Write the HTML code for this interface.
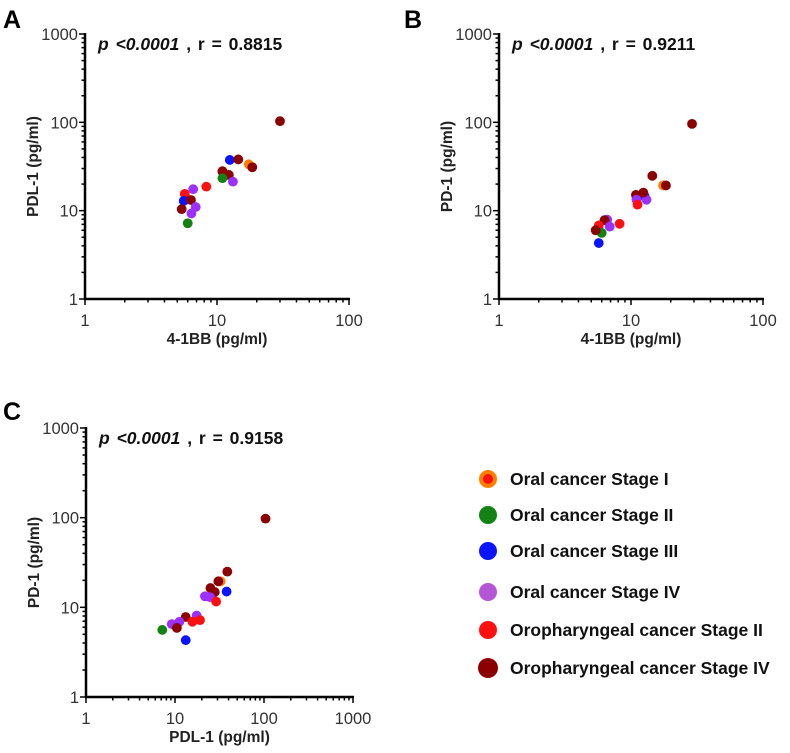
<!DOCTYPE html>
<html><head><meta charset="utf-8">
<style>
body{margin:0;background:#fff;}
svg text{font-family:"Liberation Sans",Arial,sans-serif;}
</style></head>
<body>
<svg id="fig" width="790" height="748" viewBox="0 0 790 748" xmlns="http://www.w3.org/2000/svg">
<text x="3" y="28" font-size="25" font-weight="bold">A</text>
<text x="404" y="28" font-size="25" font-weight="bold">B</text>
<text x="3" y="420" font-size="25" font-weight="bold">C</text>
<g id="legend"></g>
</svg>
<script>
const colors = {s1:"#ff7f00", s2:"#128212", s3:"#0a14ff", s4:"#9b30ff", o2:"#ff1010", o4:"#8b0000"};
const legendLabels = ["Oral cancer Stage I","Oral cancer Stage II","Oral cancer Stage III","Oral cancer Stage IV","Oropharyngeal cancer Stage II","Oropharyngeal cancer Stage IV"];
const legendKeys = ["s1","s2","s3","s4","o2","o4"];

// Panel A: 4-1BB vs PDL-1
const aGroup = ["o4","s3","o4","s1","o4","o2","o4","o4","s2","s4","o2","s4","o2","s3","o4","s4","o4","s4","s2"];
const aX = [30,12.5,14.5,17.4,18.5,11,11,12.3,11,13.2,8.3,6.6,5.7,5.6,6.35,6.9,5.4,6.4,6.0];
const aY = [103,37.5,38,33.5,31,27.6,28,25.4,23.3,21.3,18.7,17.5,15.5,12.9,13.2,11,10.4,9.3,7.2];
// Panel B: 4-1BB vs PD-1
const bGroup = ["o4","o4","s1","o4","s3","o4","s4","s4","o2","o2","s4","o4","s4","o2","s2","o4","s3","o4"];
const bX = [29,14.5,17.5,18.4,12.7,10.9,11,13.1,11.2,8.2,6.6,6.3,6.9,5.7,6.0,5.4,5.7,12.4];
const bY = [96,24.8,19.3,19.3,14.5,15.1,13.3,13.3,11.7,7.1,7.9,7.8,6.6,6.8,5.6,6.0,4.3,16];
// Panel C: PDL-1 vs PD-1
const cGroup = ["o4","o4","s1","o4","s3","o4","o4","s4","s4","o2","o4","s4","o2","o2","s4","s4","o4","s2","s3"];
const cX = [104,38.7,32.6,30.7,38,25,28,21.7,24.7,29,13.2,17.5,19.1,15.7,9.2,11.2,10.5,7.2,13.2];
const cY = [97.5,25,19.5,19.5,15,16.4,14.8,13.3,13,11.6,7.8,8.1,7.2,6.9,6.5,6.9,5.9,5.6,4.3];
const xTicksAB = [1,10,100];
const xTicksC = [1,10,100,1000];
const yTicks = [1,10,100,1000];

const NS="http://www.w3.org/2000/svg";
const svg=document.getElementById('fig');
function mk(tag,attrs,parent){const e=document.createElementNS(NS,tag);for(const k in attrs)e.setAttribute(k,attrs[k]);(parent||svg).appendChild(e);return e;}

function panel(id,p){
  const g=mk('g',{});
  
  
  const xmin=Math.log10(p.xTicks[0]), xmax=Math.log10(p.xTicks[p.xTicks.length-1]);
  const sx=v=>p.x0+(Math.log10(v)-xmin)/(xmax-xmin)*(p.x1-p.x0);
  const sy=v=>p.y1-(Math.log10(v)-0)/3*(p.y1-p.y0);
  const ya=mk('line',{x1:p.x0,y1:p.y0-1,x2:p.x0,y2:p.y1+1,stroke:'#000','stroke-width':2.5},g);
  
  
  const xa=mk('line',{x1:p.x0-1,y1:p.y1,x2:p.x1+1,y2:p.y1,stroke:'#000','stroke-width':2.5},g);
  
  
  for(let d=0;d<3;d++){for(let m=1;m<=9;m++){const v=m*Math.pow(10,d);const y=sy(v);mk('line',{x1:p.x0,y1:y,x2:p.x0-(m==1?6:3.5),y2:y,stroke:'#000','stroke-width':1.5},g);}}
  mk('line',{x1:p.x0,y1:sy(1000),x2:p.x0-6,y2:sy(1000),stroke:'#000','stroke-width':1.5},g);
  yTicks.forEach(v=>{const t=mk('text',{x:p.x0-7,y:sy(v)+6,'font-size':16.5,'text-anchor':'end',fill:'#333'},g);t.textContent=v;
    
    });
  const nd=p.xTicks.length-1;
  for(let d=0;d<nd;d++){for(let m=1;m<=9;m++){const v=m*Math.pow(10,d);const x=sx(v);mk('line',{x1:x,y1:p.y1,x2:x,y2:p.y1+(m==1?6:3.5),stroke:'#000','stroke-width':1.5},g);}}
  mk('line',{x1:p.x1,y1:p.y1,x2:p.x1,y2:p.y1+6,stroke:'#000','stroke-width':1.5},g);
  p.xTicks.forEach(v=>{const t=mk('text',{x:sx(v),y:p.y1+27,'font-size':16.5,'text-anchor':'middle',fill:'#333'},g);t.textContent=v;
    
    });
  const xt=mk('text',{x:(p.x0+p.x1)/2,y:p.y1+45,'font-size':15.5,'font-weight':'bold','text-anchor':'middle',fill:'#222'},g);xt.textContent=p.xTitle;
  
  
  const cy=(p.y0+p.y1)/2;
  const yt=mk('text',{x:p.x0-47,y:cy,'font-size':15.5,'font-weight':'bold','text-anchor':'middle',fill:'#222',transform:`rotate(-90 ${p.x0-47} ${cy})`},g);yt.textContent=p.yTitle;
  
  
  const an=mk('text',{x:p.x0+13,y:p.y0+16,'font-size':17.5,'font-weight':'bold',fill:'#111','word-spacing':'2'},g);
  an.innerHTML='<tspan font-style="italic">p</tspan>  <tspan font-style="italic">&lt;0.0001</tspan> , r =  '+p.r;
  
  
  p.X.forEach((xv,i)=>{
    const k=p.G[i];
    const c=mk('circle',{cx:sx(xv),cy:sy(p.Y[i]),r:4.9,fill:colors[k]},g);
    
    
  });
}
panel('a',{x0:85,x1:349,y0:34,y1:299,xTicks:xTicksAB,X:aX,Y:aY,G:aGroup,xTitle:'4-1BB (pg/ml)',yTitle:'PDL-1 (pg/ml)',r:'0.8815'});
panel('b',{x0:499,x1:763,y0:34,y1:299,xTicks:xTicksAB,X:bX,Y:bY,G:bGroup,xTitle:'4-1BB (pg/ml)',yTitle:'PD-1 (pg/ml)',r:'0.9211'});
panel('c',{x0:86,x1:353,y0:428,y1:697,xTicks:xTicksC,X:cX,Y:cY,G:cGroup,xTitle:'PDL-1 (pg/ml)',yTitle:'PD-1 (pg/ml)',r:'0.9158'});

const lg=document.getElementById('legend');
const ly=[479,515,551,592,630,668];
const lcol={s1:"#ff7f00",s2:"#128212",s3:"#0a14ff",s4:"#b455d8",o2:"#ff1010",o4:"#8b0000"};
legendKeys.forEach((k,i)=>{
  const e=mk('g',{},lg);
  
  
  if(k==='s1'){mk('circle',{cx:488,cy:ly[i],r:9,fill:'#ff7f00'},e);mk('circle',{cx:488,cy:ly[i],r:5,fill:'#ff1010'},e);}
  else mk('circle',{cx:488,cy:ly[i],r:k==='o4'?10:9,fill:lcol[k]},e);
  const t=mk('text',{x:510,y:ly[i]+6,'font-size':17.5,'font-weight':'bold',fill:'#111'},e);
  t.textContent=legendLabels[i];
});
</script>
</body></html>
